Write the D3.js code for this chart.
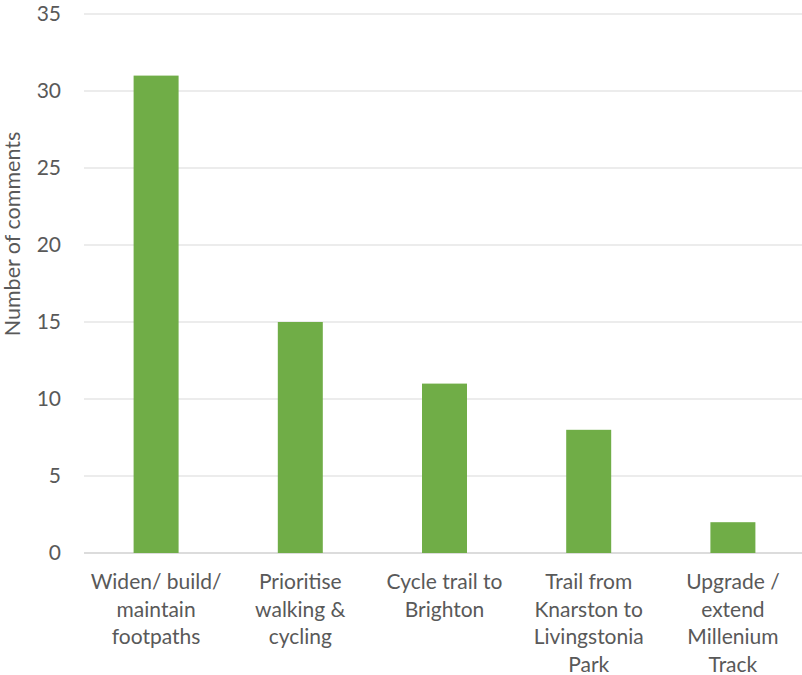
<!DOCTYPE html>
<html>
<head>
<meta charset="utf-8">
<script src="https://cdn.jsdelivr.net/npm/d3@7"></script>
<style>
  html, body { margin: 0; padding: 0; background: #fff; }
  svg { display: block; }
  text { font-family: Lato, "Open Sans", sans-serif; fill: #595959; }
</style>
</head>
<body>
<svg id="chart" width="802" height="675"></svg>
<script>
const categories = [
  ["Widen/ build/", "maintain", "footpaths"],
  ["Prioritise", "walking &", "cycling"],
  ["Cycle trail to", "Brighton"],
  ["Trail from", "Knarston to", "Livingstonia", "Park"],
  ["Upgrade /", "extend", "Millenium", "Track"]
];
const values = [31, 15, 11, 8, 2];
const yTicks = [0, 5, 10, 15, 20, 25, 30, 35];
const yTitle = "Number of comments";

(function () {
const svg = d3.select("#chart");
const mLeft = 84, mRight = 805, mTop = 14, mBottom = 553;
const fs = "21px";

const x = d3.scaleBand().domain(d3.range(values.length)).range([mLeft, mRight]).padding(0);
const y = d3.scaleLinear().domain([0, 35]).range([mBottom, mTop]);
const barW = x.bandwidth() * 0.312;

// gridlines
svg.append("g").selectAll("line").data(yTicks).join("line")
  .attr("x1", mLeft).attr("x2", 802)
  .attr("y1", d => y(d)).attr("y2", d => y(d))
  .attr("stroke", d => d === 0 ? "#d0d0d0" : "#d9d9d9")
  .attr("stroke-width", d => d === 0 ? 1.5 : 1.2);

// y tick labels
svg.append("g").selectAll("text").data(yTicks).join("text")
  .attr("x", 61).attr("y", d => y(d))
  .attr("dy", "0.35em")
  .attr("text-anchor", "end")
  .style("font-size", fs)
  .text(d => d);

// bars
svg.append("g").selectAll("rect").data(values).join("rect")
  .attr("x", (d, i) => x(i) + x.bandwidth() / 2 - barW / 2)
  .attr("width", barW)
  .attr("y", d => y(d))
  .attr("height", d => y(0) - y(d))
  .attr("fill", "#70ad47");

// category labels
const cl = svg.append("g").selectAll("text").data(categories).join("text")
  .attr("text-anchor", "middle")
  .style("font-size", fs)
  .attr("transform", (d, i) => `translate(${x(i) + x.bandwidth() / 2},${589})`);
cl.selectAll("tspan").data(d => d).join("tspan")
  .attr("x", 0)
  .attr("y", (d, j) => j * 27.5)
  .text(d => d);

// y title
svg.append("text")
  .attr("transform", `translate(20,234) rotate(-90)`)
  .attr("text-anchor", "middle")
  .style("font-size", "21.5px")
  .text(yTitle);
})();
</script>
</body>
</html>
